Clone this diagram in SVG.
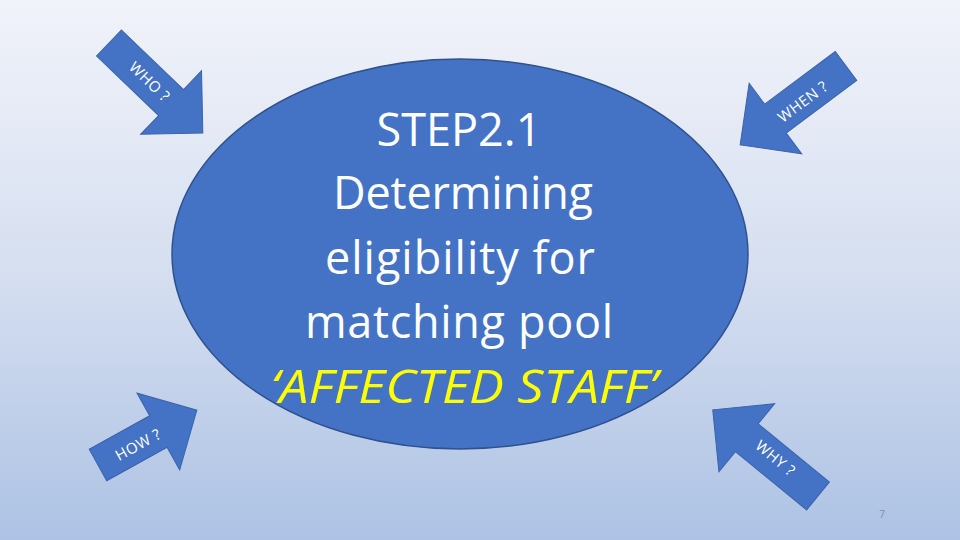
<svg xmlns="http://www.w3.org/2000/svg" width="960" height="540" viewBox="0 0 960 540">
  <defs>
    <linearGradient id="bg" x1="0" y1="0" x2="0" y2="1">
      <stop offset="0" stop-color="#F1F3FA"/>
      <stop offset="0.5" stop-color="#D6DFF0"/>
      <stop offset="1" stop-color="#ADC2E4"/>
    </linearGradient>
    <style>
      .shape { fill: #4472C4; stroke: #3A63AC; stroke-width: 1; }
      .lbl { font-family: "Open Sans", "Liberation Sans", sans-serif; font-size: 15px; fill: #FFFFFF; text-anchor: middle; letter-spacing: 0.5px; }
      .main { font-family: "Open Sans", "Liberation Sans", sans-serif; font-size: 45px; fill: #FFFFFF; text-anchor: middle; }
      .yel { fill: #FFFF00; font-style: italic; }
      .pg { font-family: "Open Sans", "Liberation Sans", sans-serif; font-size: 10px; fill: #7F8FAA; text-anchor: middle; }
    </style>
  </defs>
  <rect x="0" y="0" width="960" height="540" fill="url(#bg)"/>

  <g id="arrow-who" transform="translate(109,43) rotate(43.8)">
    <polygon class="shape" points="0,-18 86,-18 86,-44 130,0 86,44 86,18 0,18"/>
    <text class="lbl" x="56" y="5">WHO ?</text>
  </g>

  <g id="arrow-when" transform="translate(846,66) rotate(143.3)">
    <polygon class="shape" points="0,-18 88,-18 88,-44 132,0 88,44 88,18 0,18"/>
    <text class="lbl" transform="translate(56,-3) rotate(180)" y="5">WHEN ?</text>
  </g>

  <g id="arrow-how" transform="translate(98,465) rotate(-29)">
    <polygon class="shape" points="0,-18 69,-18 69,-44 113,0 69,44 69,18 0,18"/>
    <text class="lbl" x="45" y="7">HOW ?</text>
  </g>

  <g id="arrow-why" transform="translate(818,496) rotate(219.3)">
    <polygon class="shape" points="0,-18 92,-18 92,-44 136,0 92,44 92,18 0,18"/>
    <text class="lbl" transform="translate(57,2) rotate(180)" y="5">WHY ?</text>
  </g>

  <g id="step-ellipse">
    <ellipse cx="460" cy="254" rx="288" ry="195" fill="#4472C4" stroke="#2F528F" stroke-width="1.5"/>
    <text class="main" x="459" y="146">STEP2.1</text>
    <text class="main" x="463" y="209" textLength="260">Determining</text>
    <text class="main" x="460" y="274" textLength="270">eligibility for</text>
    <text class="main" x="459" y="338" textLength="308">matching pool</text>
    <text class="main yel" x="464" y="403" textLength="387" lengthAdjust="spacingAndGlyphs">‘AFFECTED STAFF’</text>
  </g>

  <g id="connectors"/>

  <text class="pg" x="882" y="518">7</text>
</svg>
